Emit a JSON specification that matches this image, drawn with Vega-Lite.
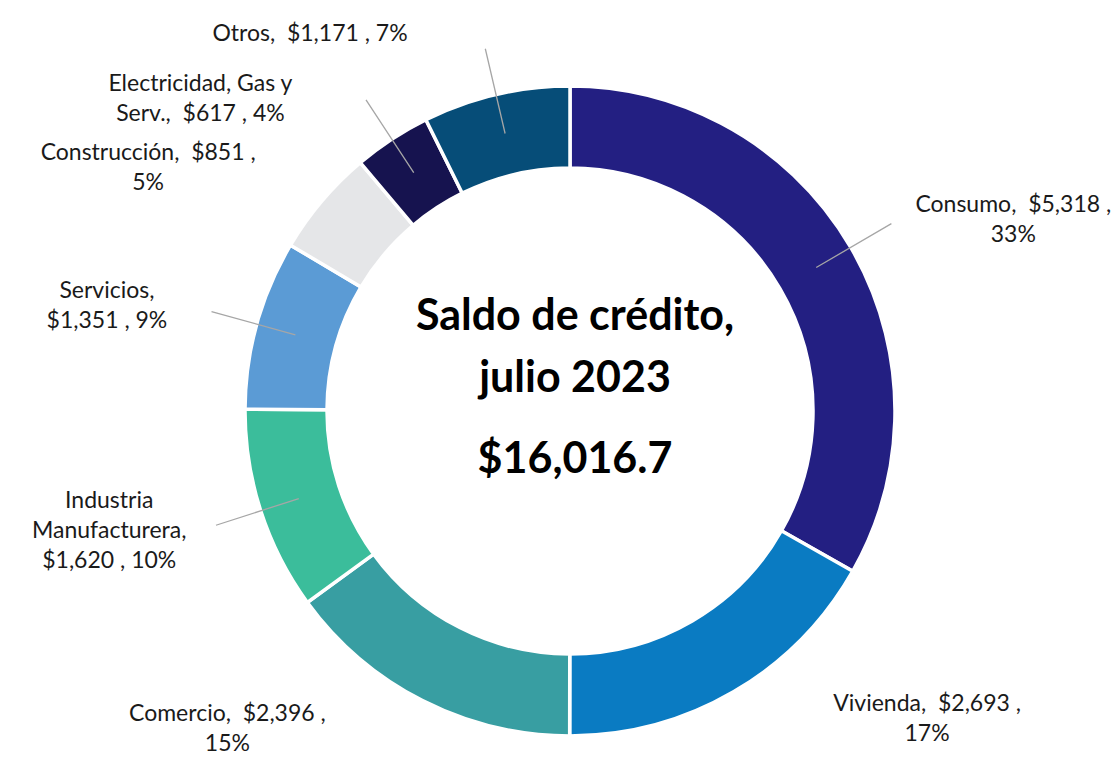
{
  "$schema": "https://vega.github.io/schema/vega-lite/v6.json",
  "autosize": {"type": "none"},
  "padding": {"left": 21, "top": 64, "right": 0, "bottom": 0},
  "width": 1098,
  "height": 694,
  "background": "white",
  "config": {"view": {"stroke": null}, "font": "Lato"},
  "data": {
    "values": [
      {"i": 1, "category": "Consumo", "value": 5318, "label": ["Consumo,\u00a0 $5,318 ,", "33%"]},
      {"i": 2, "category": "Vivienda", "value": 2693, "label": ["Vivienda,\u00a0 $2,693 ,", "17%"]},
      {"i": 3, "category": "Comercio", "value": 2396, "label": ["Comercio,\u00a0 $2,396 ,", "15%"]},
      {"i": 4, "category": "Industria Manufacturera", "value": 1620, "label": ["Industria", "Manufacturera,", "$1,620 , 10%"]},
      {"i": 5, "category": "Servicios", "value": 1351, "label": ["Servicios,", "$1,351 , 9%"]},
      {"i": 6, "category": "Construcción", "value": 851, "label": ["Construcción,\u00a0 $851 ,", "5%"]},
      {"i": 7, "category": "Electricidad, Gas y Serv.", "value": 617, "label": ["Electricidad, Gas y", "Serv.,\u00a0 $617 , 4%"]},
      {"i": 8, "category": "Otros", "value": 1171, "label": ["Otros,\u00a0 $1,171 , 7%"]}
    ]
  },
  "layer": [
    {
      "mark": {"type": "arc", "outerRadius": 325, "innerRadius": 243, "stroke": "white", "strokeWidth": 3.5},
      "encoding": {
        "theta": {"field": "value", "type": "quantitative", "stack": true},
        "order": {"field": "i", "type": "quantitative"},
        "color": {
          "field": "category",
          "type": "nominal",
          "legend": null,
          "scale": {
            "domain": ["Consumo", "Vivienda", "Comercio", "Industria Manufacturera", "Servicios", "Construcción", "Electricidad, Gas y Serv.", "Otros"],
            "range": ["#231F82", "#0A7BC2", "#389EA2", "#3BBD9B", "#5B9BD5", "#E5E6E8", "#16134F", "#064D78"]
          }
        }
      }
    },
    {
      "transform": [
        {"window": [{"op": "sum", "field": "value", "as": "cum"}], "sort": [{"field": "i"}], "frame": [null, 0]},
        {"calculate": "datum.cum - datum.value / 2", "as": "mid"},
        {"filter": {"field": "category", "oneOf": ["Consumo", "Industria Manufacturera", "Servicios", "Electricidad, Gas y Serv.", "Otros"]}}
      ],
      "mark": {"type": "arc", "innerRadius": 285, "outerRadius": 372, "fill": null, "stroke": "#A6A6A6", "strokeWidth": 1.3},
      "encoding": {
        "theta": {"field": "mid", "type": "quantitative", "stack": null},
        "theta2": {"field": "mid"}
      }
    },
    {
      "transform": [
        {"joinaggregate": [{"op": "sum", "field": "value", "as": "total"}]},
        {"window": [{"op": "sum", "field": "value", "as": "cum"}], "sort": [{"field": "i"}], "frame": [null, 0]},
        {"calculate": "2 * PI * (datum.cum - datum.value / 2) / datum.total", "as": "ang"},
        {"calculate": "sin(datum.ang)", "as": "sx"},
        {"calculate": "cos(datum.ang)", "as": "cy"}
      ],
      "mark": {"type": "text", "font": "Lato", "fontSize": 23, "lineHeight": 30, "align": "center", "baseline": "middle", "color": "#1A1A1A"},
      "encoding": {
        "x": {"field": "sx", "type": "quantitative", "axis": null, "scale": {"type": "pow", "exponent": 0.4, "domain": [-1.4747, 1.4747], "nice": false, "zero": false}},
        "y": {"field": "cy", "type": "quantitative", "axis": null, "scale": {"domain": [-1.011, 0.8904], "nice": false, "zero": false}},
        "text": {"field": "label"}
      }
    },
    {
      "data": {"values": [{"title": ["Saldo de crédito,", "julio 2023"], "amount": "$16,016.7"}]},
      "layer": [
        {
          "mark": {"type": "text", "font": "Lato", "fontWeight": "bold", "fontSize": 43, "lineHeight": 62, "align": "center", "baseline": "alphabetic", "dx": 5, "dy": -81, "color": "black"},
          "encoding": {"text": {"field": "title"}}
        },
        {
          "mark": {"type": "text", "font": "Lato", "fontWeight": "bold", "fontSize": 43, "align": "center", "baseline": "alphabetic", "dx": 5, "dy": 62, "color": "black"},
          "encoding": {"text": {"field": "amount"}}
        }
      ]
    }
  ]
}
